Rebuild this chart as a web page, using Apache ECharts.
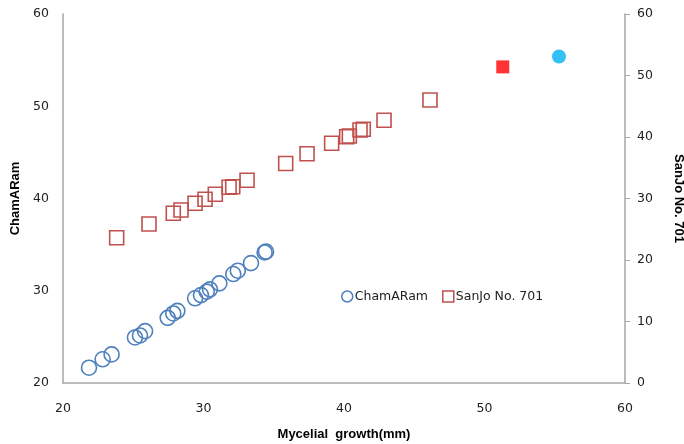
<!DOCTYPE html>
<html>
<head>
<meta charset="utf-8">
<script src="https://cdn.jsdelivr.net/npm/echarts@6/dist/echarts.min.js"></script>
<style>html,body{margin:0;padding:0;background:#fff}#c{width:684px;height:444px}</style>
</head>
<body>
<div id="c"></div>
<script>
const chamX = [21.85,22.82,23.46,25.12,25.48,25.84,27.45,27.85,28.14,29.4,29.82,30.23,30.46,31.13,32.12,32.44,33.38,34.35,34.45];
const chamY = [21.66,22.57,23.1,24.94,25.15,25.62,27.06,27.54,27.82,29.18,29.53,29.9,30.15,30.8,31.81,32.17,33.0,34.15,34.25];
const sanX = [23.82,26.12,27.85,28.4,29.4,30.11,30.84,31.82,32.08,33.1,35.85,37.37,39.12,40.19,40.38,41.14,41.37,42.85,46.12];
const sanY = [23.63,25.85,27.59,28.13,29.22,29.87,30.68,31.82,31.92,32.96,35.7,37.28,38.98,40.05,40.16,41.14,41.25,42.72,46.02];
const chamHighlight = [55.3, 55.4];
const sanHighlight = [51.3, 51.4];
const seriesNames = ['ChamARam', 'SanJo No. 701'];
const xTitle = 'Mycelial  growth(mm)';

const pair = (xs, ys) => xs.map((x, i) => [x, ys[i]]);
const chart = echarts.init(document.getElementById('c'));
const labelFont = {fontFamily: 'DejaVu Sans', fontSize: 12.5, color: '#222'};
const nameFont = {fontFamily: 'Liberation Sans', fontSize: 13, fontWeight: 'bold', color: '#000'};
chart.setOption({
  animation: false,
  grid: {left: 63, right: 59, top: 14, bottom: 61, containLabel: false, outerBoundsMode: 'none'},
  legend: {
    left: 336, top: 285, itemWidth: 11, itemHeight: 11, itemGap: 14,
    textStyle: {fontFamily: 'DejaVu Sans', fontSize: 12.5, color: '#222', padding: [0,0,0,-3]},
    data: [
      {name: seriesNames[0], icon: 'circle', itemStyle: {color: 'transparent', borderColor: '#4f81bd', borderWidth: 1.5}},
      {name: seriesNames[1], icon: 'rect', itemStyle: {color: 'transparent', borderColor: '#c0504d', borderWidth: 1.5}}
    ]
  },
  xAxis: {
    type: 'value', min: 20, max: 60, interval: 10,
    name: xTitle, nameLocation: 'middle', nameGap: 45, nameTextStyle: nameFont,
    axisLine: {lineStyle: {color: '#a6a6a6', width: 1.5}},
    axisTick: {show: false}, splitLine: {show: false},
    axisLabel: Object.assign({margin: 19}, labelFont)
  },
  yAxis: [
    {
      type: 'value', min: 20, max: 60, interval: 10, position: 'left',
      name: seriesNames[0], nameLocation: 'middle', nameGap: 41, nameTextStyle: nameFont,
      axisLine: {show: true, lineStyle: {color: '#a6a6a6', width: 1.5}},
      axisTick: {show: false}, splitLine: {show: false},
      axisLabel: Object.assign({margin: 14}, labelFont)
    },
    {
      type: 'value', min: 0, max: 60, interval: 10, position: 'right',
      name: seriesNames[1], nameLocation: 'middle', nameGap: 47, nameRotate: -90, nameTextStyle: nameFont,
      axisLine: {show: true, lineStyle: {color: '#a6a6a6', width: 1.5}},
      axisTick: {show: true, inside: false, length: 5, lineStyle: {color: '#a6a6a6'}},
      splitLine: {show: false},
      axisLabel: Object.assign({margin: 12}, labelFont)
    }
  ],
  series: [
    {
      name: seriesNames[0], type: 'scatter', yAxisIndex: 0, symbol: 'circle', symbolSize: 15,
      itemStyle: {color: 'transparent', borderColor: '#4f81bd', borderWidth: 1.6, opacity: 1},
      data: pair(chamX, chamY)
    },
    {
      name: seriesNames[1], type: 'scatter', yAxisIndex: 1, symbol: 'rect', symbolSize: 14,
      itemStyle: {color: 'transparent', borderColor: '#c0504d', borderWidth: 1.6, opacity: 1},
      data: pair(sanX, sanY)
    },
    {
      name: 'chamHighlight', type: 'scatter', yAxisIndex: 0, symbol: 'circle', symbolSize: 14,
      itemStyle: {color: '#00b0f0'}, data: [chamHighlight]
    },
    {
      name: 'sanHighlight', type: 'scatter', yAxisIndex: 1, symbol: 'rect', symbolSize: 13,
      itemStyle: {color: '#ff0000'}, data: [sanHighlight]
    }
  ]
});
</script>
</body>
</html>
